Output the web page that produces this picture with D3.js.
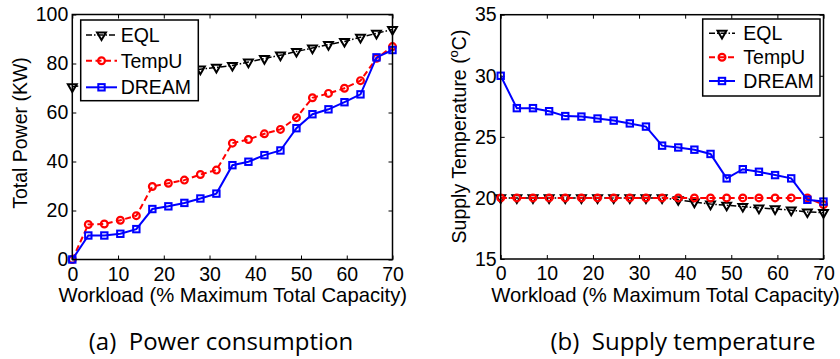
<!DOCTYPE html>
<html>
<head>
<meta charset="utf-8">
<script src="https://cdn.jsdelivr.net/npm/d3@7"></script>
<style>
  body { margin: 0; background: #fff; }
  svg { display: block; }
</style>
</head>
<body>
<svg id="fig" width="840" height="359"></svg>
<script>
// workload points (% of max total capacity)
const workload = [0, 3.5, 7, 10.5, 14, 17.5, 21, 24.5, 28, 31.5, 35, 38.5, 42, 45.5, 49, 52.5, 56, 59.5, 63, 66.5, 70];
const xTicks = [0, 10, 20, 30, 40, 50, 60, 70];

// (a) power, KW
const powerEQL   = [70.5, 71.3, 72.2, 73.0, 74.0, 75.0, 76.0, 76.9, 77.7, 78.4, 79.2, 80.6, 82.0, 83.4, 84.9, 86.3, 87.7, 89.0, 90.7, 92.3, 93.9];
const powerTempU = [0, 14.3, 14.5, 16.0, 17.9, 29.8, 31.1, 32.4, 34.7, 36.5, 47.5, 49.0, 51.3, 53.1, 57.9, 66.0, 67.8, 69.9, 73.0, 82.1, 86.9];
const powerDREAM = [0, 9.8, 9.8, 10.5, 12.4, 20.6, 21.7, 23.1, 24.9, 26.9, 38.5, 39.9, 42.6, 44.5, 53.6, 59.3, 61.3, 64.2, 67.4, 82.5, 85.5];
const powerTicks = [0, 20, 40, 60, 80, 100];

// (b) supply temperature, C
const tempEQL   = [20, 20, 20, 20, 20, 20, 20, 20, 20, 20, 20, 19.85, 19.66, 19.5, 19.4, 19.3, 19.17, 19.1, 19.0, 18.85, 18.8];
const tempTempU = [20, 20, 20, 20, 20, 20, 20, 20, 20, 20, 20, 20, 20, 20, 20, 20, 20, 20, 20, 20, 19.45];
const tempDREAM = [30.0, 27.35, 27.35, 27.1, 26.7, 26.66, 26.5, 26.33, 26.1, 25.84, 24.28, 24.13, 23.95, 23.6, 21.6, 22.35, 22.14, 21.87, 21.6, 19.85, 19.7];
const tempTicks = [15, 20, 25, 30, 35];

const seriesNames = ["EQL", "TempU", "DREAM"];

const font = "'Liberation Sans', Arial, sans-serif";
const styles = {
  EQL:   { color: "#000", dash: "6,2,1.5,2", width: 1.5, marker: "tri" },
  TempU: { color: "#f00", dash: "6,3.5", width: 2, marker: "circle" },
  DREAM: { color: "#00f", dash: null, width: 2, marker: "square" }
};

const svg = d3.select("#fig");
svg.append("rect").attr("width", 840).attr("height", 359).attr("fill", "#fff");

function drawMarker(g, kind, color, cx, cy) {
  if (kind === "tri") {
    g.append("path")
      .attr("d", d3.symbol(d3.symbolTriangle, 34)())
      .attr("transform", `translate(${cx},${cy}) rotate(180)`)
      .attr("fill", "none").attr("stroke", color).attr("stroke-width", 2);
  } else if (kind === "circle") {
    g.append("circle").attr("cx", cx).attr("cy", cy).attr("r", 3.4)
      .attr("fill", "none").attr("stroke", color).attr("stroke-width", 2.2);
  } else {
    g.append("rect").attr("x", cx - 3.2).attr("y", cy - 3.2).attr("width", 6.4).attr("height", 6.4)
      .attr("fill", "none").attr("stroke", color).attr("stroke-width", 2);
  }
}

function panel(cfg) {
  const x = d3.scaleLinear().domain([0, 70]).range([cfg.left, cfg.right]);
  const y = d3.scaleLinear().domain(cfg.yDomain).range([cfg.bottom, cfg.top]);
  const g = svg.append("g");

  // ticks on all four sides, pointing inward
  g.append("g").attr("transform", `translate(0,${cfg.bottom})`)
    .call(d3.axisBottom(x).tickValues(xTicks).tickSizeInner(-4).tickSizeOuter(0).tickPadding(7.5))
    .call(a => a.select(".domain").remove());
  g.append("g").attr("transform", `translate(0,${cfg.top})`)
    .call(d3.axisTop(x).tickValues(xTicks).tickSizeInner(-4).tickSizeOuter(0).tickFormat(""))
    .call(a => a.select(".domain").remove());
  g.append("g").attr("transform", `translate(${cfg.left},0)`)
    .call(d3.axisLeft(y).tickValues(cfg.yTicks).tickSizeInner(-4).tickSizeOuter(0).tickPadding(4))
    .call(a => a.select(".domain").remove());
  g.append("g").attr("transform", `translate(${cfg.right},0)`)
    .call(d3.axisRight(y).tickValues(cfg.yTicks).tickSizeInner(-4).tickSizeOuter(0).tickFormat(""))
    .call(a => a.select(".domain").remove());
  g.selectAll(".tick line").attr("stroke", "#000").attr("stroke-width", 1);
  g.selectAll(".tick text").attr("font-family", font).attr("font-size", 19.5).attr("fill", "#000");

  // series
  const lineGen = d3.line().x((d, i) => x(workload[i])).y(d => y(d));
  cfg.series.forEach((vals, k) => {
    const st = styles[seriesNames[k]];
    const sg = g.append("g");
    sg.append("path").datum(vals).attr("d", lineGen)
      .attr("fill", "none").attr("stroke", st.color).attr("stroke-width", st.width)
      .attr("stroke-dasharray", st.dash);
    vals.forEach((v, i) => drawMarker(sg, st.marker, st.color, x(workload[i]), y(v)));
  });

  // box
  g.append("rect").attr("x", cfg.left).attr("y", cfg.top)
    .attr("width", cfg.right - cfg.left).attr("height", cfg.bottom - cfg.top)
    .attr("fill", "none").attr("stroke", "#000").attr("stroke-width", 1.5);

  // legend
  const L = cfg.legend;
  const lg = g.append("g");
  lg.append("rect").attr("x", L.x0).attr("y", L.y0).attr("width", L.x1 - L.x0).attr("height", L.y1 - L.y0)
    .attr("fill", "#fff").attr("stroke", "#000").attr("stroke-width", 1.5);
  seriesNames.forEach((name, k) => {
    const st = styles[name];
    const yy = L.rows[k];
    lg.append("line").attr("x1", L.lx0).attr("x2", L.lx1).attr("y1", yy).attr("y2", yy)
      .attr("stroke", st.color).attr("stroke-width", st.width).attr("stroke-dasharray", st.dash);
    drawMarker(lg, st.marker, st.color, (L.lx0 + L.lx1) / 2, yy);
    lg.append("text").attr("x", L.tx).attr("y", yy).attr("dy", "0.36em")
      .attr("font-family", font).attr("font-size", 19.5).text(name);
  });

  // axis labels
  g.append("text").attr("x", cfg.xlabX).attr("y", 301.5)
    .attr("text-anchor", "middle").attr("font-family", font).attr("font-size", 20.3)
    .text("Workload (% Maximum Total Capacity)");
  const yl = g.append("text")
    .attr("transform", `translate(${cfg.ylabX},${cfg.ylabY}) rotate(-90)`)
    .attr("text-anchor", "middle").attr("font-family", font).attr("font-size", 19.5);
  cfg.ylab(yl);

  // caption
  g.append("text").attr("x", cfg.capX).attr("y", 350)
    .attr("text-anchor", "middle").attr("font-family", "'Open Sans', 'Noto Sans', sans-serif")
    .attr("font-size", 24)
    .style("white-space", "pre")
    .text(cfg.caption);
}

panel({
  left: 72.3, right: 392.5, top: 14.5, bottom: 259.5,
  yDomain: [0, 100], yTicks: powerTicks,
  series: [powerEQL, powerTempU, powerDREAM],
  legend: { x0: 80.7, x1: 198.3, y0: 20, y1: 100.7, rows: [35, 60.7, 87.3], lx0: 86, lx1: 117, tx: 120.7 },
  xlabX: 232.8, ylabX: 27, ylabY: 133,
  ylab: t => t.text("Total Power (KW)"),
  capX: 221, caption: "(a)  Power consumption"
});

panel({
  left: 500.7, right: 823.5, top: 14.7, bottom: 259,
  yDomain: [15, 35], yTicks: tempTicks,
  series: [tempEQL, tempTempU, tempDREAM],
  legend: { x0: 702.7, x1: 820, y0: 19, y1: 96, rows: [33.3, 57.3, 81], lx0: 709, lx1: 735, tx: 743.3 },
  xlabX: 665.5, ylabX: 466, ylabY: 136.5,
  ylab: t => {
    t.append("tspan").text("Supply Temperature (");
    t.append("tspan").attr("font-size", 13).attr("dy", -8).text("o");
    t.append("tspan").attr("dy", 8).text("C)");
  },
  capX: 683, caption: "(b)  Supply temperature"
});
</script>
</body>
</html>
